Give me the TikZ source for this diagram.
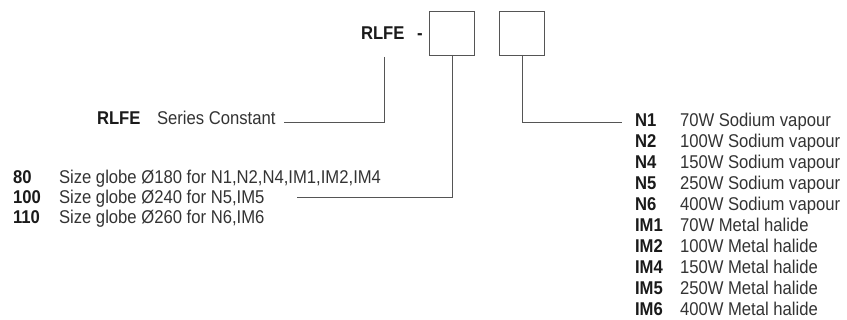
\documentclass[tikz,border=0pt]{standalone}
\usepackage{fontspec}
\setmainfont{Liberation Sans}[FakeStretch=0.9]
\definecolor{txt}{HTML}{333333}
\definecolor{lab}{HTML}{1A1A1A}
\definecolor{ln}{HTML}{555555}
\begin{document}
\begin{tikzpicture}[x=1pt,y=-1pt,
  every node/.style={inner sep=0pt,outer sep=0pt,anchor=base west,font=\fontsize{18.5}{21}\selectfont},
  lbl/.style={text=lab,font=\fontsize{18.5}{21}\selectfont\bfseries},
  dsc/.style={text=txt},
  conn/.style={draw=ln,line width=0.9pt},
  codebox/.style={draw=ln,line width=0.9pt,minimum width=45pt,minimum height=44pt,anchor=north west}]
\useasboundingbox (0,0) rectangle (847,320);
% top code
\node[lbl] (top) at (361,39.5) {RLFE};
\node[lbl] (dash) at (417,39.5) {-};
\node[codebox] (b1) at (429.5,11) {};
\node[codebox] (b2) at (499.5,11) {};
% series constant
\node[lbl] (sc) at (97,124.5) {RLFE};
\node[dsc] (scd) at (157,124.5) {Series Constant};
\coordinate (scend) at (284,122);
\coordinate (topbot) at (384,57);
\draw[conn] (topbot) |- (scend);
% sizes
\node[lbl] (s80) at (13,183.5) {80};
\node[dsc] (s80d) at (59,183.5) {Size globe Ø180 for N1,N2,N4,IM1,IM2,IM4};
\node[lbl] (s100) at (13,203.5) {100};
\node[dsc] (s100d) at (59,203.5) {Size globe Ø240 for N5,IM5};
\node[lbl] (s110) at (13,223.5) {110};
\node[dsc] (s110d) at (59,223.5) {Size globe Ø260 for N6,IM6};
\coordinate (sizeend) at (297,197);
\draw[conn] (b1.south) |- (sizeend);
% lamps
\foreach \k/\a/\b in {0/N1/70W Sodium vapour,1/N2/100W Sodium vapour,2/N4/150W Sodium vapour,3/N5/250W Sodium vapour,4/N6/400W Sodium vapour,5/IM1/70W Metal halide,6/IM2/100W Metal halide,7/IM4/150W Metal halide,8/IM5/250W Metal halide,9/IM6/400W Metal halide}{
  \node[lbl] (l\k) at (635,127+20.9*\k) {\a};
  \node[dsc] (d\k) at (680,127+20.9*\k) {\b};
}
\coordinate (lampend) at (622,122);
\draw[conn] (b2.south) |- (lampend);
\end{tikzpicture}
\end{document}
